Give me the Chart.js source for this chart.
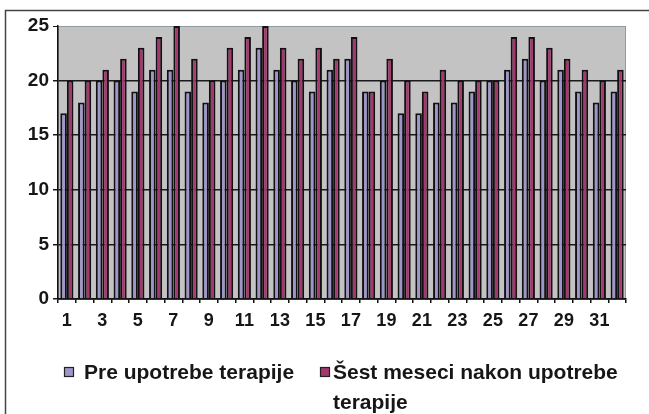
<!DOCTYPE html>
<html>
<head>
<meta charset="utf-8">
<script src="https://cdn.jsdelivr.net/npm/chart.js@4/dist/chart.umd.min.js"></script>
<style>
    html, body { margin: 0; padding: 0; background: #ffffff; }
    #wrap { position: relative; width: 649px; height: 414px; }
</style>
</head>
<body>
<div id="wrap"><canvas id="chart" width="649" height="414"></canvas></div>
<script>
/* Patient scores before therapy and six months after */

const categories = [
    '1', '2', '3', '4', '5', '6', '7', '8', '9', '10', '11', '12', '13', '14', '15', '16',
    '17', '18', '19', '20', '21', '22', '23', '24', '25', '26', '27', '28', '29', '30', '31', '32'
];
const beforeValues = [
    17, 18, 20, 20, 19, 21, 21, 19, 18, 20, 21, 23, 21, 20, 19, 21,
    22, 19, 20, 17, 17, 18, 18, 19, 20, 21, 22, 20, 21, 19, 18, 19
];
const afterValues = [
    20, 20, 21, 22, 23, 24, 25, 22, 20, 23, 24, 25, 23, 22, 23, 22,
    24, 19, 22, 20, 19, 21, 20, 20, 20, 24, 24, 23, 22, 21, 20, 21
];
const seriesNames = ['Pre upotrebe terapije', ['Šest meseci nakon upotrebe', 'terapije']];
const yTicks = [0, 5, 10, 15, 20, 25];

const BLUE = '#9d95cb';
const PLUM = '#a3376e';
const TEXT = '#161616';
const FAMILY = '"Liberation Sans", Arial, sans-serif';

const framePlugin = {
    id: 'frame',
    beforeDraw(chart) {
        const { ctx, chartArea: a } = chart;
        ctx.save();
        // outer frame (top and left only, like the scan)
        ctx.strokeStyle = '#444';
        ctx.lineWidth = 1.5;
        ctx.beginPath();
        ctx.moveTo(5.5, 414);
        ctx.lineTo(5.5, 10.5);
        ctx.lineTo(649, 10.5);
        ctx.stroke();
        // plot area background
        ctx.fillStyle = '#c3c3c3';
        ctx.fillRect(a.left, a.top, a.right - a.left, a.bottom - a.top);
        ctx.strokeStyle = '#8e9aa0';
        ctx.lineWidth = 1;
        ctx.strokeRect(a.left + 0.5, a.top + 0.5, a.right - a.left - 1, a.bottom - a.top);
        ctx.restore();
    },
    afterDraw(chart) {
        // legend under the chart
        const { ctx } = chart;
        ctx.save();
        ctx.font = 'bold 21px ' + FAMILY;
        ctx.textBaseline = 'alphabetic';
        ctx.textAlign = 'left';
        const colors = [BLUE, PLUM];
        const boxX = [64, 320];
        const textX = [84, 333];
        const widths = [214, 291];
        const base = 379;
        seriesNames.forEach((name, i) => {
            ctx.fillStyle = colors[i];
            ctx.fillRect(boxX[i], 367, 10, 10);
            ctx.strokeStyle = '#222';
            ctx.lineWidth = 1.2;
            ctx.strokeRect(boxX[i] + 0.5, 367.5, 9, 9);
            ctx.fillStyle = TEXT;
            const lines = Array.isArray(name) ? name : [name];
            ctx.fillText(lines[0], textX[i], base, widths[i]);
            if (lines.length > 1) {
                ctx.fillText(lines[1], textX[i], base + 30);
            }
        });
        ctx.restore();
    }
};

new Chart(document.getElementById('chart'), {
    type: 'bar',
    data: {
        labels: categories,
        datasets: [
            {
                label: 'Pre upotrebe terapije',
                data: beforeValues,
                backgroundColor: BLUE,
                borderColor: '#111',
                borderWidth: 2,
                borderSkipped: 'bottom',
                categoryPercentage: 0.74,
                barPercentage: 1.0
            },
            {
                label: 'Šest meseci nakon upotrebe terapije',
                data: afterValues,
                backgroundColor: PLUM,
                borderColor: '#111',
                borderWidth: 2,
                borderSkipped: 'bottom',
                categoryPercentage: 0.74,
                barPercentage: 1.0
            }
        ]
    },
    options: {
        responsive: false,
        animation: false,
        layout: { padding: { left: 0, right: 23, top: 26, bottom: 75 } },
        scales: {
            x: {
                offset: true,
                grid: {
                    display: true,
                    drawOnChartArea: false,
                    drawTicks: true,
                    tickLength: 4,
                    color: '#111',
                    lineWidth: 1.5
                },
                border: { display: true, color: '#111', width: 1.5 },
                ticks: {
                    autoSkip: false,
                    maxRotation: 0,
                    padding: 7,
                    color: TEXT,
                    font: { family: FAMILY, size: 18, weight: 'bold' },
                    callback: function (value, index) {
                        return index % 2 === 0 ? categories[index] : '';
                    }
                },
                afterFit: function (scale) { scale.height = 40; }
            },
            y: {
                min: 0,
                max: 25,
                afterBuildTicks: function (scale) {
                    scale.ticks = yTicks.map(v => ({ value: v }));
                },
                grid: {
                    color: ctx => (ctx.tick && ctx.tick.value === 25 ? '#8e9aa0' : '#1a1a1a'),
                    lineWidth: ctx => (ctx.tick && ctx.tick.value === 25 ? 1 : 1.5),
                    tickLength: 5,
                    tickColor: '#1a1a1a'
                },
                border: { display: true, color: '#111', width: 1.5 },
                ticks: {
                    padding: 4,
                    color: TEXT,
                    font: { family: FAMILY, size: 19, weight: 'bold' }
                },
                afterFit: function (scale) { scale.width = 58; }
            }
        },
        plugins: {
            legend: { display: false },
            tooltip: { enabled: false }
        }
    },
    plugins: [framePlugin]
});
</script>
</body>
</html>
